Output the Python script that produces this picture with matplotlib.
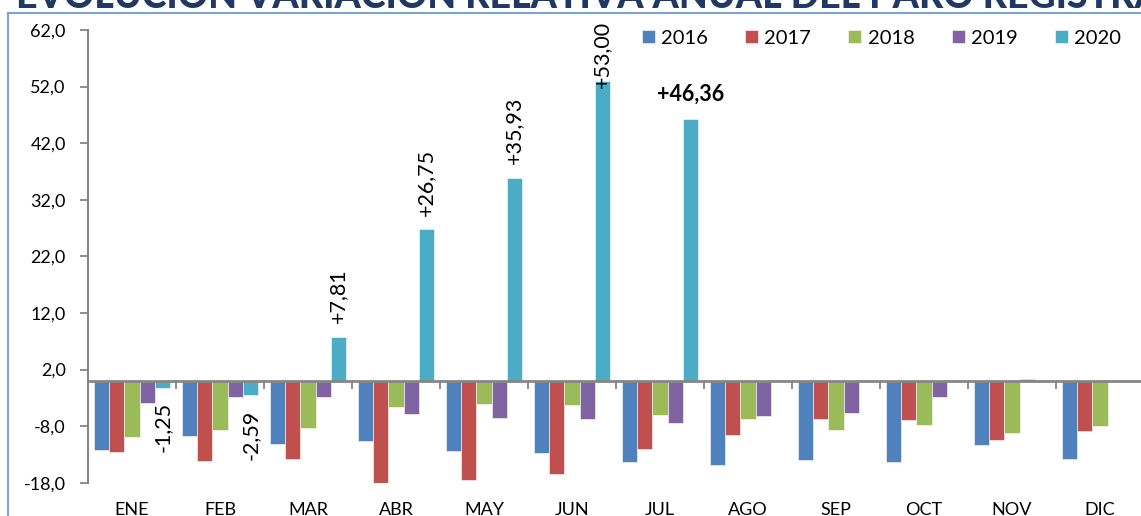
import matplotlib
matplotlib.use('Agg')
import matplotlib.pyplot as plt
import numpy as np
from matplotlib.lines import Line2D
from matplotlib.ticker import FuncFormatter

# Datos: variación relativa anual del paro registrado (%)
meses = ['ENE', 'FEB', 'MAR', 'ABR', 'MAY', 'JUN', 'JUL', 'AGO', 'SEP', 'OCT', 'NOV', 'DIC']
anios = ['2016', '2017', '2018', '2019', '2020']
v2016 = [-12.3, -9.7, -11.2, -10.7, -12.4, -12.8, -14.3, -14.8, -14.0, -14.3, -11.3, -13.9]
v2017 = [-12.5, -14.1, -13.8, -18.0, -17.5, -16.5, -12.0, -9.6, -6.8, -6.9, -10.5, -8.9]
v2018 = [-9.9, -8.6, -8.4, -4.7, -4.1, -4.2, -6.1, -6.7, -8.6, -7.8, -9.3, -7.9]
v2019 = [-4.0, -2.8, -2.8, -5.8, -6.5, -6.7, -7.5, -6.2, -5.7, -2.9, 0.3, -0.1]
v2020 = [-1.25, -2.59, 7.81, 26.75, 35.93, 53.00, 46.36]
etiquetas_2020 = ['-1,25', '-2,59', '+7,81', '+26,75', '+35,93', '+53,00', '+46,36']
ticks_y = [-18, -8, 2, 12, 22, 32, 42, 52, 62]

colores = ['#4F81BD', '#C0504D', '#9BBB59', '#8064A2', '#4BACC6']
gris = '#868686'

plt.rcParams['font.family'] = ['Lato', 'DejaVu Sans']

fig = plt.figure(figsize=(11.41, 5.16), dpi=100)
ax = fig.add_axes([88 / 1141, 1 - 482.7 / 516, 1056 / 1141, 452.7 / 516])

x = np.arange(len(meses))
ancho = 0.172
series = [v2016, v2017, v2018, v2019, v2020]
for i, serie in enumerate(series):
    xs = x[:len(serie)] + (i - 2) * ancho
    ax.bar(xs, serie, ancho, color=colores[i], edgecolor='white', linewidth=0.4,
           label=anios[i], zorder=2)
# Se dibujan las cinco series agrupadas por mes

ax.axhline(0, color=gris, linewidth=2, zorder=3)
# Línea del cero

ax.set_xlim(-0.5, 11.5)
ax.set_ylim(-18, 62)
ax.set_yticks(ticks_y)
ax.yaxis.set_major_formatter(FuncFormatter(lambda v, p: f'{v:.1f}'.replace('.', ',')))
ax.tick_params(axis='y', direction='out', length=6, width=1.3, color=gris, pad=10,
               labelsize=13, labelcolor='black')
ax.set_xticks(x)
ax.set_xticklabels(meses)
ax.tick_params(axis='x', length=0, pad=14, labelsize=13)
for lado in ['top', 'right', 'bottom']:
    ax.spines[lado].set_visible(False)
ax.spines['left'].set_color(gris)
ax.spines['left'].set_linewidth(1.5)

# Marcas entre meses sobre la línea del cero
sec = ax.secondary_xaxis(18 / 80)
sec.set_xticks(np.arange(0.5, 11, 1))
sec.tick_params(direction='out', length=6, width=1.3, color=gris, labelbottom=False)
sec.spines['bottom'].set_visible(False)

# Etiquetas de 2020
for i, (valor, texto) in enumerate(zip(v2020, etiquetas_2020)):
    xc = x[i] + 2 * ancho
    if texto == '+46,36':
        ax.annotate(texto, (xc, valor), xytext=(0, 10), textcoords='offset points',
                    ha='center', va='bottom', fontsize=15.5, fontweight='bold',
                    annotation_clip=False)
    elif valor >= 50:
        ax.annotate(texto, (xc, valor), xytext=(0, -5), textcoords='offset points',
                    ha='center', va='bottom', rotation=90, fontsize=15.5,
                    annotation_clip=False)
    elif valor >= 0:
        ax.annotate(texto, (xc, valor), xytext=(0, 10), textcoords='offset points',
                    ha='center', va='bottom', rotation=90, fontsize=15.5)
    else:
        ax.annotate(texto, (xc, valor), xytext=(0, -10), textcoords='offset points',
                    ha='center', va='top', rotation=90, fontsize=15.5)

ax.legend(loc='center left', bbox_to_anchor=(642 / 1141, 1 - 38 / 516),
          bbox_transform=fig.transFigure, ncol=5, frameon=False, fontsize=14.5,
          handlelength=0.65, handleheight=0.65, handletextpad=0.3,
          columnspacing=1.85, borderpad=0, borderaxespad=0)

# Título (cortado en la parte superior) y marco del gráfico
fig.text(16 / 1141, 1 - 8 / 516, 'EVOLUCIÓN VARIACIÓN RELATIVA ANUAL DEL PARO REGISTRADO',
         fontsize=27, fontweight='black', color='#1F3864', va='baseline')
fig.add_artist(Line2D([8 / 1141, 8 / 1141], [0, 1 - 12.7 / 516], transform=fig.transFigure,
                      color='#7BA3DA', linewidth=1.5))
fig.add_artist(Line2D([8 / 1141, 1], [1 - 12.7 / 516, 1 - 12.7 / 516], transform=fig.transFigure,
                      color='#7BA3DA', linewidth=1.5))

fig.savefig('out.png', dpi=100)
